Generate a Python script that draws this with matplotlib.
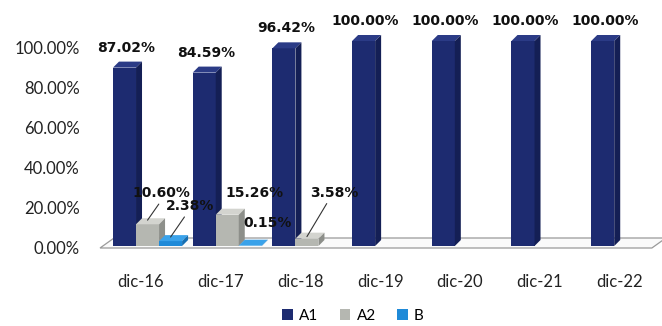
import matplotlib
matplotlib.use("Agg")
import matplotlib.pyplot as plt
from matplotlib.patches import Polygon, Rectangle, Patch
import numpy as np

periods = ["dic-16", "dic-17", "dic-18", "dic-19", "dic-20", "dic-21", "dic-22"]
series = ["A1", "A2", "B"]
a1 = [87.02, 84.59, 96.42, 100.00, 100.00, 100.00, 100.00]
a2 = [10.60, 15.26, 3.58, 0, 0, 0, 0]
b = [2.38, 0.15, 0, 0, 0, 0, 0]
wall_ticks = [0, 20, 40, 60, 80, 100]

# (front, top, side) shades per series
shades = {
    "A1": ("#1d2b70", "#2b3b86", "#141f55"),
    "A2": ("#b5b7b1", "#d3d4cf", "#8d8f8a"),
    "B": ("#1f8ad8", "#3aa2ea", "#166fb2"),
}

W, H = 662, 326
sx = 79.7          # px per category
sy = 2.05          # px per percent
x0 = 141           # px of first category
y0 = H - 246       # px (from bottom) of bar base
dep_x, dep_y = 6 / sx, 6 / sy
bw = 0.289
offsets = (np.arange(3) - 1) * bw + 0.082

fig = plt.figure(figsize=(W / 100, H / 100), dpi=100)
fig.patch.set_facecolor("white")

ax_b = 70
ax = fig.add_axes([0, ax_b / H, 1, 1 - ax_b / H])
ax.set_xlim(-x0 / sx, (W - x0) / sx)
ax.set_ylim((ax_b - y0) / sy, (H - y0) / sy)
for s in ax.spines.values():
    s.set_visible(False)
ax.set_yticks([])
x = np.arange(len(periods))
ax.set_xticks(x)
ax.set_xticklabels(periods, fontfamily="Lato", fontsize=12, color="#222222")
ax.tick_params(axis="x", length=0, pad=13)

# floor
fl = -0.514
fr = 6.41
fy = -2 / sy
floor = Polygon([(fl, fy), (fr, fy), (fr + 0.176, fy + 10 / sy), (fl + 0.176, fy + 10 / sy)],
                closed=True, facecolor="#fafafa", edgecolor="#9a9a9a", lw=0.9, zorder=1)
ax.add_patch(floor)


def bar3d(c, h, name):
    front, top, side = shades[name]
    l, r = c - bw / 2, c + bw / 2
    ax.add_patch(Rectangle((l, 0), bw, h, facecolor=front, edgecolor="none", zorder=3))
    ax.add_patch(Polygon([(l, h), (r, h), (r + dep_x, h + dep_y), (l + dep_x, h + dep_y)],
                         facecolor=top, edgecolor="none", zorder=3))
    ax.add_patch(Polygon([(r, 0), (r + dep_x, dep_y), (r + dep_x, h + dep_y), (r, h)],
                         facecolor=side, edgecolor="none", zorder=3))


values = [a1, a2, b]
for i in range(len(periods)):
    for k, name in enumerate(series):
        v = values[k][i]
        if v > 0:
            bar3d(x[i] + offsets[k], v, name)

lab = dict(fontsize=10, fontweight="bold", fontfamily="DejaVu Sans", color="#111111",
           ha="center", va="center", textcoords="offset pixels", zorder=5)

for i, v in enumerate(a1):
    ax.annotate(f"{v:.2f}%", (x[i] + offsets[0], v), xytext=(2, 20), **lab)

leader = dict(arrowstyle="-", color="#333333", lw=0.8, shrinkA=1, shrinkB=0)
# A2 labels
ax.annotate(f"{a2[0]:.2f}%", (x[0] + offsets[1], a2[0] + 2), xytext=(14, 27),
            arrowprops=dict(relpos=(0.5, 0), **leader), **lab)
ax.annotate(f"{a2[1]:.2f}%", (x[1] + offsets[1], a2[1]), xytext=(27, 22), **lab)
ax.annotate(f"{a2[2]:.2f}%", (x[2] + offsets[1], a2[2] + 1), xytext=(27, 44),
            arrowprops=dict(relpos=(0.4, 0), **leader), **lab)
# B labels
ax.annotate(f"{b[0]:.2f}%", (x[0] + offsets[2], b[0] + 2), xytext=(19, 31),
            arrowprops=dict(relpos=(0.45, 0), **leader), **lab)
ax.annotate(f"{b[1]:.2f}%", (x[1] + offsets[2], b[1]), xytext=(17, 23), **lab)

# percentage scale on the back wall
wall = fig.add_axes([84 / W, (H - 248) / H, 0.001, 200 / H])
wall.set_ylim(0, 100)
wall.set_yticks(wall_ticks)
wall.set_yticklabels([f"{t:.2f}%" for t in wall_ticks], fontfamily="Lato", fontsize=12, color="#222222")
wall.tick_params(axis="y", length=0, pad=3)
wall.set_xticks([])
for s in wall.spines.values():
    s.set_visible(False)
wall.patch.set_alpha(0)

handles = [Patch(facecolor=shades[n][0], edgecolor="none") for n in series]
fig.legend(handles, series, loc="center", bbox_to_anchor=(353 / W, 1 - 316 / H), ncol=3,
           frameon=False, prop={"family": "Lato", "size": 11}, handlelength=0.7,
           handleheight=0.7, handletextpad=0.4, columnspacing=1.4)

fig.savefig("out.png", dpi=100)
